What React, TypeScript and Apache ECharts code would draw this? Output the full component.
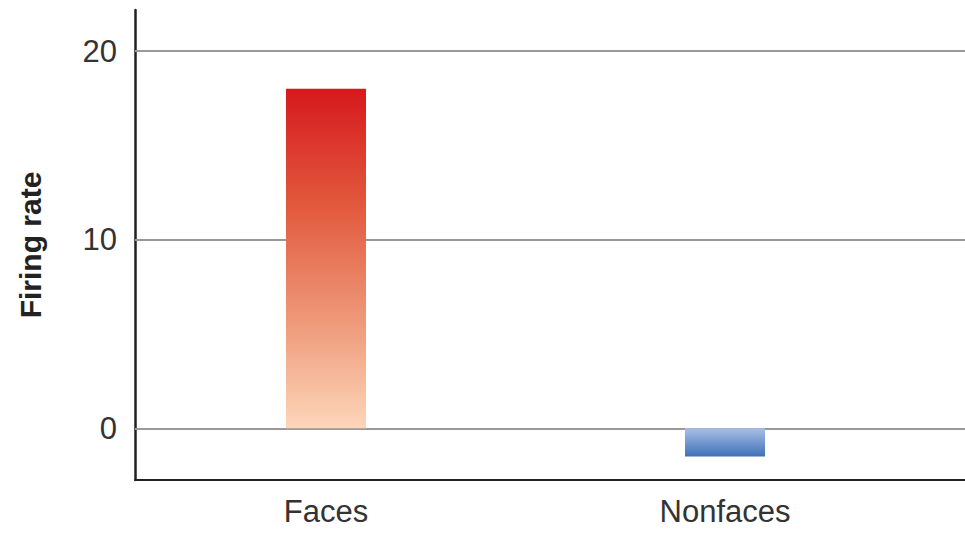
import React, { useEffect, useRef } from "react";
import * as echarts from "echarts";

const categories = ["Faces", "Nonfaces"];
const firingRate = [18, -1.5];
const yTickValues = [0, 10, 20];
const yLabel = "Firing rate";

export default function App() {
  const ref = useRef<HTMLDivElement>(null);
  useEffect(() => {
    if (!ref.current) return;
    const chart = echarts.init(ref.current, null, { renderer: "svg" });
    const grad = (stops: [number, string][]) =>
      new echarts.graphic.LinearGradient(
        0, 0, 0, 1,
        stops.map(([offset, color]) => ({ offset, color }))
      );
    const colors = [
      grad([[0, "#d6191d"], [0.35, "#e25a3e"], [0.7, "#ef9c7c"], [1, "#fdd6ba"]]),
      grad([[0, "#a9bfe4"], [1, "#3e70b8"]]),
    ];
    chart.setOption({
      animation: false,
      backgroundColor: "#ffffff",
      grid: { left: 135, right: 0, top: 10, bottom: 62, containLabel: false },
      xAxis: {
        type: "value",
        min: -0.4787,
        max: 1.6015,
        axisLine: { show: true, onZero: false, lineStyle: { color: "#222", width: 2 } },
        axisTick: { show: false },
        splitLine: { show: false },
        axisLabel: {
          customValues: [0, 1],
          formatter: (v: number) => categories[Math.round(v)] ?? "",
          color: "#333",
          fontSize: 31,
          fontFamily: "Liberation Sans, Arial, sans-serif",
          margin: 16,
        },
      },
      yAxis: {
        type: "value",
        min: -2.74,
        max: 22.18,
        name: yLabel,
        nameLocation: "middle",
        nameGap: 90,
        nameTextStyle: {
          fontSize: 30,
          fontWeight: "bold",
          color: "#222",
          fontFamily: "Liberation Sans, Arial, sans-serif",
        },
        axisLine: { show: true, onZero: false, lineStyle: { color: "#222", width: 2.5 } },
        axisTick: { show: false },
        splitLine: { show: false },
        axisLabel: {
          customValues: yTickValues,
          color: "#333",
          fontSize: 31,
          fontFamily: "Liberation Sans, Arial, sans-serif",
          margin: 18,
        },
      },
      series: [
        {
          type: "bar",
          barWidth: 80,
          data: firingRate.map((v, i) => ({
            value: [i, v],
            itemStyle: { color: colors[i] },
          })),
          z: 3,
          markLine: {
            silent: true,
            symbol: ["none", "none"],
            label: { show: false },
            lineStyle: { color: "#999", width: 2, type: "solid" },
            data: yTickValues.map((v) => ({ yAxis: v })),
            z: 1,
          },
        },
      ],
    });
    return () => chart.dispose();
  }, []);
  return <div ref={ref} style={{ width: 965, height: 542, position: "absolute", left: 0, top: 0 }} />;
}
